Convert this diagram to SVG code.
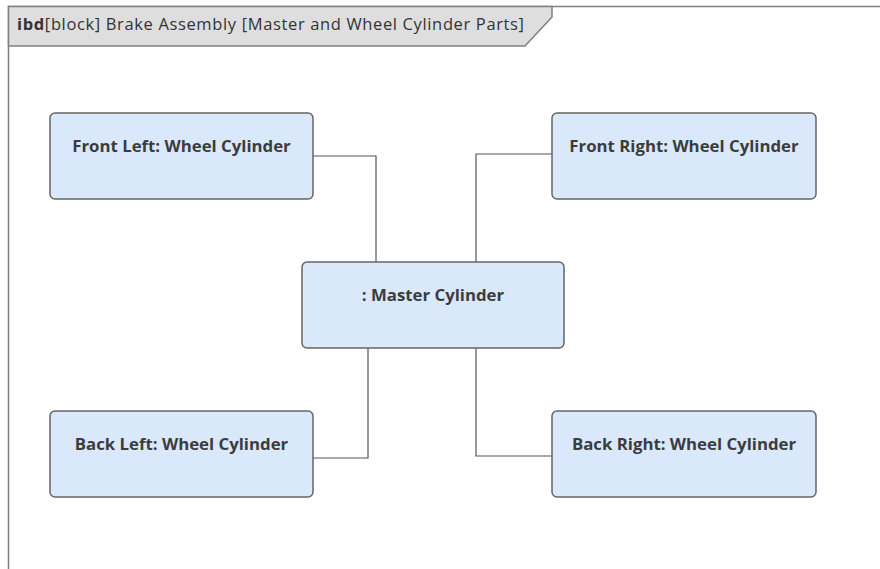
<svg xmlns="http://www.w3.org/2000/svg" width="880" height="569" viewBox="0 0 880 569">
<style>
.node rect{fill:#dae8fc;stroke:#666666;stroke-width:1.5}
.node text{font-family:"Open Sans","Liberation Sans",Arial,sans-serif;font-weight:bold;font-size:16.8px;fill:#3c3c3c;text-anchor:middle}
.conn path{fill:none;stroke:#555555;stroke-width:1.2}
.hdr{font-family:"Open Sans","Liberation Sans",Arial,sans-serif;font-size:16.5px;fill:#333333}
</style>
<rect width="880" height="569" fill="#ffffff"/>
<g id="frame">
<path d="M8.5,569 L8.5,6.5 L880,6.5" fill="none" stroke="#808080" stroke-width="1.5"/>
<path d="M8.5,6.5 L552,6.5 L552,17 L525,46 L8.5,46 Z" fill="#dedede" stroke="#808080" stroke-width="1.5"/>
<text class="hdr" x="17" y="29.5" textLength="507"><tspan font-weight="bold">ibd</tspan>[block] Brake Assembly [Master and Wheel Cylinder Parts]</text>
</g>
<g class="conn" id="connectors">
<path d="M313,156 H376 V262"/>
<path d="M552,154 H476 V262"/>
<path d="M368,348 V458 H313"/>
<path d="M476,348 V456 H552"/>
</g>
<g class="node" id="front-left">
<rect x="50" y="113" width="263" height="86" rx="5"/>
<text x="181.5" y="152">Front Left: Wheel Cylinder</text>
</g>
<g class="node" id="front-right">
<rect x="552" y="113" width="264" height="86" rx="5"/>
<text x="684" y="152">Front Right: Wheel Cylinder</text>
</g>
<g class="node" id="master">
<rect x="302" y="262" width="262" height="86" rx="5"/>
<text x="433" y="301">: Master Cylinder</text>
</g>
<g class="node" id="back-left">
<rect x="50" y="411" width="263" height="86" rx="5"/>
<text x="181.5" y="450">Back Left: Wheel Cylinder</text>
</g>
<g class="node" id="back-right">
<rect x="552" y="411" width="264" height="86" rx="5"/>
<text x="684" y="450">Back Right: Wheel Cylinder</text>
</g>
</svg>
